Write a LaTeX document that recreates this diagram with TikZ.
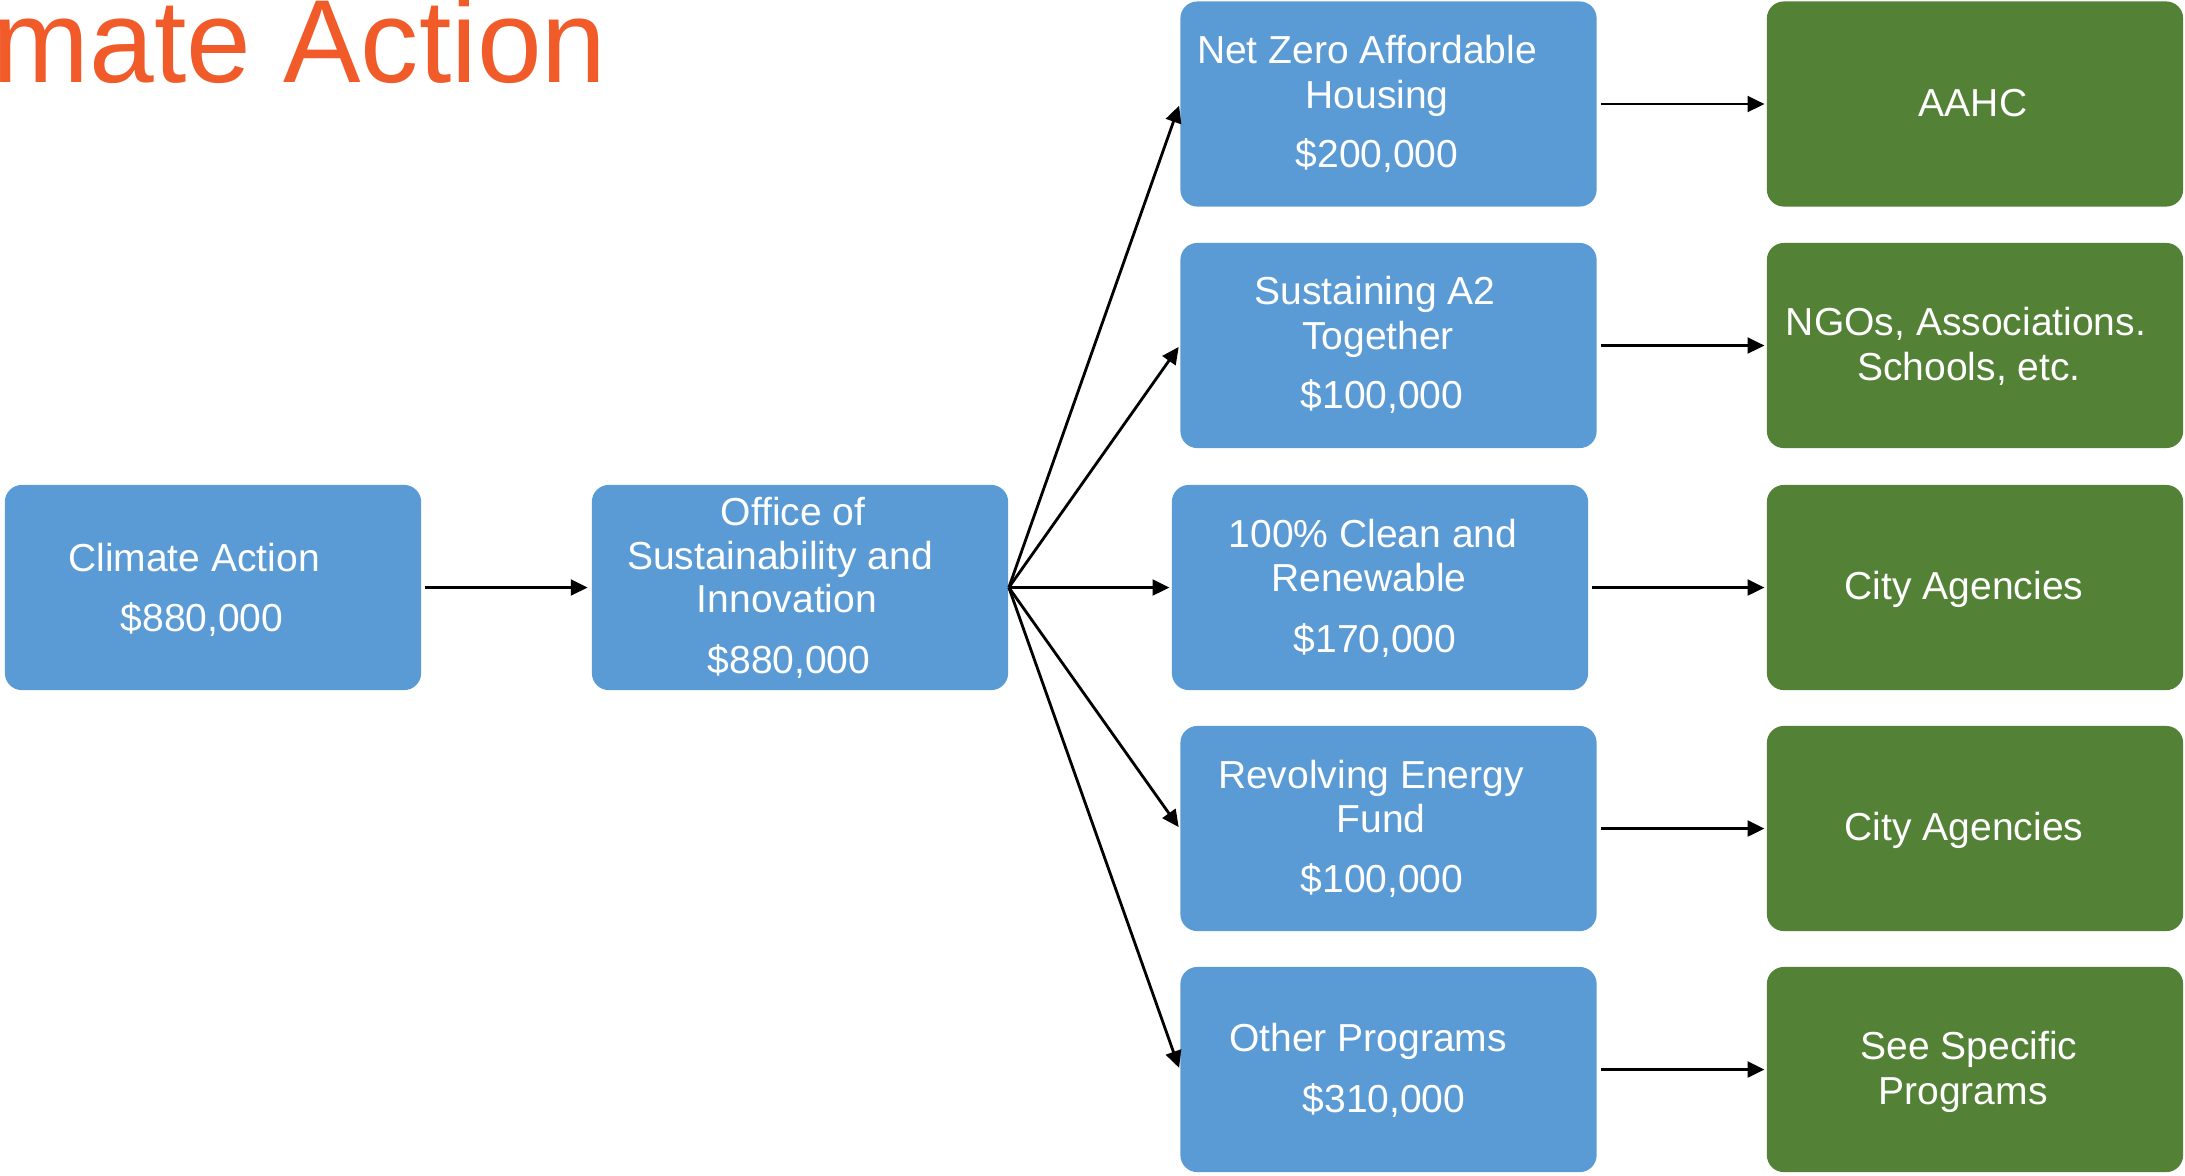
\documentclass[tikz,border=0pt]{standalone}
\usepackage{fontspec}
\setmainfont{Liberation Sans}
\usetikzlibrary{arrows.meta}
\definecolor{boxblue}{HTML}{5B9BD5}
\definecolor{boxgreen}{HTML}{538135}
\definecolor{titleorange}{HTML}{F15A29}
\begin{document}
\begin{tikzpicture}[x=0.01cm,y=-0.01cm,
  box/.style={rounded corners=4.8pt, inner sep=0pt, minimum width=4.16cm, minimum height=2.05cm, draw=none},
  bluebox/.style={box, fill=boxblue},
  greenbox/.style={box, fill=boxgreen},
  txt/.style={text=white, font=\fontsize{11.1}{13}\selectfont, anchor=base, inner sep=0pt},
  conn/.style={-{Triangle[length=4.8pt,width=4.5pt]}, line width=0.8pt, black}]
\useasboundingbox (0,0) rectangle (2185,1175);
\clip (0,0) rectangle (2185,1175);
% title
\node[anchor=base west, text=titleorange, font=\fontsize{33.6}{38}\selectfont, inner sep=0pt] (title) at (-8,82) {\scalebox{0.984}[1]{mate Action}};
% boxes
\node[bluebox] (ca) at (213,587.5) {};
\node[bluebox] (osi) at (800,587.5) {};
\node[bluebox] (b1) at (1388.5,104) {};
\node[bluebox] (b2) at (1388.5,345.5) {};
\node[bluebox] (b3) at (1380,587.5) {};
\node[bluebox] (b4) at (1388.5,828.5) {};
\node[bluebox] (b5) at (1388.5,1069.5) {};
\node[greenbox] (g1) at (1975,104) {};
\node[greenbox] (g2) at (1975,345.5) {};
\node[greenbox] (g3) at (1975,587.5) {};
\node[greenbox] (g4) at (1975,828.5) {};
\node[greenbox] (g5) at (1975,1069.5) {};
% texts
\node[txt] (ca1) at (194,571) {Climate Action};
\node[txt] (ca2) at (202,631) {\$880,000};
\node[txt] (os1) at (793,525) {Office of};
\node[txt] (os2) at (780,569) {Sustainability and};
\node[txt] (os3) at (787,612) {Innovation};
\node[txt] (os4) at (789,673) {\$880,000};
\node[txt] (b1a) at (1367,63) {Net Zero Affordable};
\node[txt] (b1b) at (1377,108) {Housing};
\node[txt] (b1c) at (1377,167) {\$200,000};
\node[txt] (b2a) at (1375,304) {Sustaining A2};
\node[txt] (b2b) at (1378,349) {Together};
\node[txt] (b2c) at (1382,408) {\$100,000};
\node[txt] (b3a) at (1373,547) {100\% Clean and};
\node[txt] (b3b) at (1369,591) {Renewable};
\node[txt] (b3c) at (1375,652) {\$170,000};
\node[txt] (b4a) at (1371,788) {Revolving Energy};
\node[txt] (b4b) at (1381,832) {Fund};
\node[txt] (b4c) at (1382,892) {\$100,000};
\node[txt] (b5a) at (1368,1051) {Other Programs};
\node[txt] (b5b) at (1384,1112) {\$310,000};
\node[txt] (g1a) at (1973,116) {AAHC};
\node[txt] (g2a) at (1966,335) {NGOs, Associations.};
\node[txt] (g2b) at (1969,380) {Schools, etc.};
\node[txt] (g3a) at (1964,599) {City Agencies};
\node[txt] (g4a) at (1964,840) {City Agencies};
\node[txt] (g5a) at (1969,1059) {See Specific};
\node[txt] (g5b) at (1963,1104) {Programs};
% connectors
\draw[conn, shorten <=1pt, shorten >=1pt] (ca.east) -- (osi.west);
\foreach \t in {b1,b2,b3,b4,b5}
  \draw[conn, shorten >=0.5pt] (osi.east) -- (\t.west);
\foreach \a/\b in {b1/g1,b2/g2,b3/g3,b4/g4,b5/g5}
  \draw[conn, shorten <=1pt, shorten >=0.5pt] (\a.east) -- (\b.west);
\end{tikzpicture}
\end{document}
